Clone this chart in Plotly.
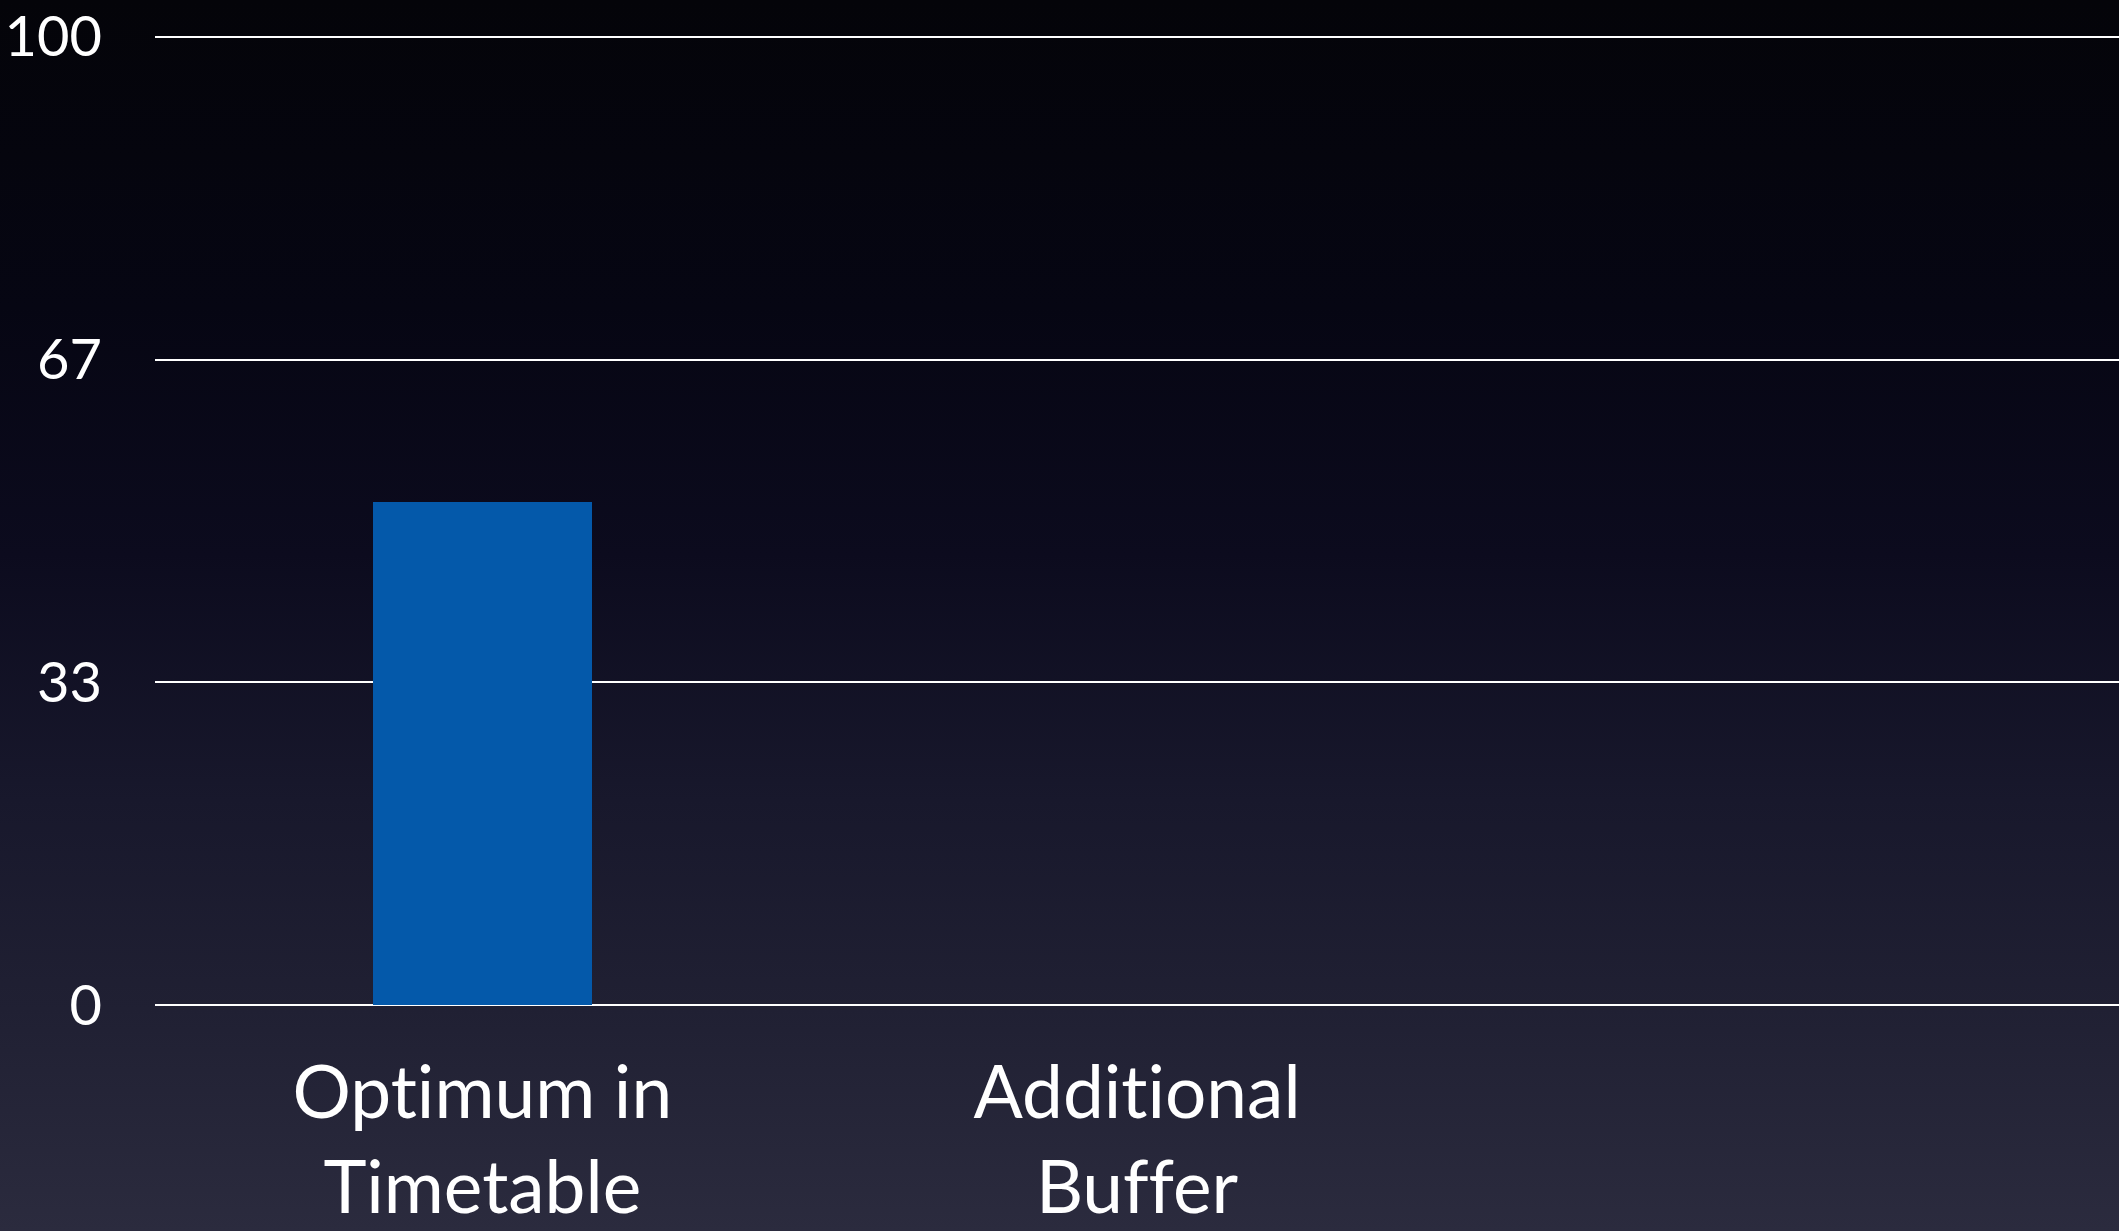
import base64
import plotly.graph_objects as go

categories = ["Optimum in<br>Timetable", "Additional<br>Buffer", " "]
values = [52, None, None]
tick_vals = [0, 33.33, 66.67, 100]
tick_text = ["0", "33", "67", "100"]

W, H = 2119, 1231
ml, mr, mt, mb = 155, 0, 27, 216
pw, ph = W - ml - mr, H - mt - mb

svg = f'''<svg xmlns="http://www.w3.org/2000/svg" width="{W}" height="{H}" preserveAspectRatio="none" viewBox="0 0 {W} {H}">
<defs><linearGradient id="g" x1="0" y1="0" x2="0" y2="1">
<stop offset="0" stop-color="#040409"/>
<stop offset="0.25" stop-color="#060613"/>
<stop offset="0.45" stop-color="#0c0b1e"/>
<stop offset="0.65" stop-color="#18182c"/>
<stop offset="0.82" stop-color="#202033"/>
<stop offset="1" stop-color="#2b2b3e"/>
</linearGradient></defs>
<rect x="0" y="0" width="{W}" height="{H}" fill="url(#g)"/></svg>'''
src = "data:image/svg+xml;base64," + base64.b64encode(svg.encode()).decode()

fig = go.Figure()
fig.add_trace(go.Bar(
    x=categories, y=values, width=0.335,
    marker=dict(color="#0459aa", line=dict(width=0)),
    hoverinfo="skip",
))

fig.update_layout(
    width=W, height=H,
    margin=dict(l=ml, r=mr, t=mt, b=mb, autoexpand=False),
    paper_bgcolor="#1a1a2c", plot_bgcolor="rgba(0,0,0,0)",
    showlegend=False,
    font=dict(family="Lato, 'Open Sans', sans-serif", color="white"),
    images=[dict(source=src, xref="paper", yref="paper",
                 x=-ml / pw, y=1 + mt / ph, sizex=W / pw, sizey=H / ph,
                 xanchor="left", yanchor="top", sizing="stretch", layer="below")],
    bargap=0,
)
fig.update_xaxes(
    type="category", range=[-0.5, 2.5], showgrid=False, showline=False,
    tickfont=dict(size=73, color="white"), ticks="", zeroline=False,
    ticklabelstandoff=29, automargin=False, ticklabeloverflow="allow",
)
fig.update_yaxes(
    range=[-1, 101], tickvals=tick_vals, ticktext=tick_text,
    showgrid=True, gridcolor="white", gridwidth=2, zeroline=False,
    showline=False, ticks="", tickfont=dict(size=56, color="white"),
    ticklabelstandoff=52, ticklabeloverflow="allow", automargin=False,
)

post = ("document.body.style.margin='0';document.body.style.overflow='hidden';"
        "var s=document.createElement('style');"
        "s.textContent='text{font-variant-ligatures:none !important;}';"
        "document.head.appendChild(s);")
fig.write_html("out.html", post_script=post, config={"displayModeBar": False})
